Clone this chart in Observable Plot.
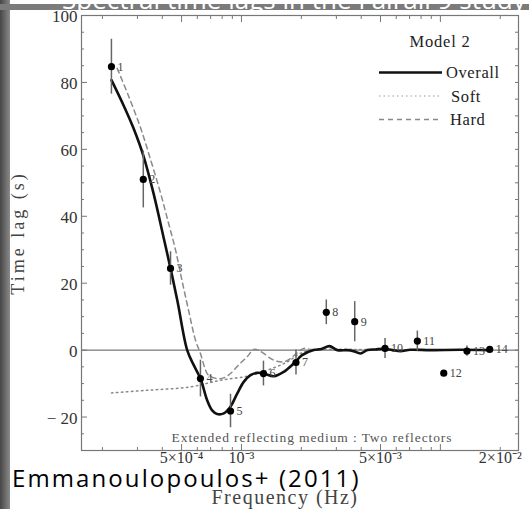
<!DOCTYPE html>
<html><head><meta charset="utf-8">
<script src="https://cdn.jsdelivr.net/npm/d3@7"></script>
<script src="https://cdn.jsdelivr.net/npm/@observablehq/plot@0.6"></script>
<style>
html,body{margin:0;padding:0;background:#fff;}
#wrap{position:relative;width:529px;height:509px;overflow:hidden;background:#fff;}
#chart{position:absolute;left:0;top:0;}
#leftbar{position:absolute;left:0;top:0;width:10px;height:509px;background:linear-gradient(to right,#464646,#8a8a8a);}
#topbar{position:absolute;left:0;top:0;width:529px;height:10px;overflow:hidden;}
#credit{position:absolute;left:12px;top:466px;font:24px/24px 'Open Sans',sans-serif;letter-spacing:2.1px;color:#000;white-space:nowrap;}
#legend{position:absolute;left:0;top:0;pointer-events:none;}
</style></head>
<body>
<div id="wrap">
  <div id="chart"></div>
  <svg id="legend" width="529" height="509"></svg>
  <div id="leftbar"></div>
  <div id="topbar"><svg width="529" height="10" viewBox="0 0 529 10">
    <defs><clipPath id="topclip"><rect x="0" y="0" width="529" height="10"></rect></clipPath></defs>
    <rect width="529" height="10" fill="#7b7b7b"></rect>
    <g clip-path="url(#topclip)"><text x="62" y="5" fill="#fff" font-family="'Open Sans',sans-serif" font-size="26">Spectral time lags in the Fairall 9 study</text></g>
  </svg></div>
  <div id="credit">Emmanoulopoulos+ (2011)</div>
</div>
<script>
// ---- data ----
const pointIds  = ["1","2","3","4","5","6","7","8","9","10","11","12","13","14"];
const pointFreq = [2.22e-4, 3.21e-4, 4.40e-4, 6.22e-4, 8.81e-4, 1.29e-3, 1.88e-3, 2.67e-3, 3.71e-3, 5.27e-3, 7.66e-3, 1.04e-2, 1.36e-2, 1.77e-2];
const pointLag  = [84.7, 51.0, 24.4, -8.5, -18.2, -7.0, -3.7, 11.3, 8.5, 0.5, 2.7, -6.9, -0.3, 0.2];
const pointErr  = [8.2, 8.5, 5.0, 5.5, 5.0, 3.7, 3.7, 3.7, 6.0, 3.0, 3.0, 0, 1.5, 0];

const overallFreq = [2.222e-4, 2.553e-4, 2.867e-4, 3.218e-4, 3.612e-4, 4.055e-4, 4.397e-4, 4.769e-4, 5.335e-4, 5.758e-4,
  6.223e-4, 6.724e-4, 7.124e-4, 7.548e-4, 8.148e-4, 8.806e-4, 9.515e-4, 1.027e-3, 1.110e-3, 1.199e-3,
  1.294e-3, 1.453e-3, 1.631e-3, 1.831e-3, 2.018e-3, 2.308e-3, 2.523e-3, 2.768e-3, 3.037e-3, 3.409e-3,
  3.655e-3, 3.963e-3, 4.298e-3, 4.714e-3, 5.171e-3, 5.739e-3, 6.295e-3, 7.067e-3, 8.906e-3, 1.260e-2, 1.763e-2];
const overallLag = [80.7, 73.2, 66.3, 58, 46.9, 33.8, 24.5, 14.6, 0, -4.5,
  -8.5, -15, -18, -19.1, -18.9, -16.9, -13, -9.5, -7.5, -6.8,
  -7, -7.8, -6.5, -4, -1.5, 0, 0.3, 1.2, 0, 0,
  -0.3, -1, 0, 0.2, 0.4, 0, -0.3, 0.1, 0, 0.1, 0];

const hardFreq = [2.373e-4, 2.705e-4, 3.108e-4, 3.489e-4, 3.917e-4, 4.297e-4, 4.659e-4, 4.995e-4, 5.416e-4, 5.872e-4,
  6.223e-4, 6.518e-4, 6.826e-4, 7.548e-4, 8.148e-4, 8.806e-4, 9.659e-4, 1.068e-3, 1.153e-3, 1.217e-3,
  1.294e-3, 1.453e-3, 1.631e-3, 1.763e-3, 1.889e-3, 2.056e-3, 2.222e-3, 2.523e-3];
const hardLag = [84.2, 76, 66.5, 57, 47, 38, 30, 21.5, 12, 3,
  -1, -5, -7.5, -8.5, -8.3, -7, -4.5, -2, 0.2, 0,
  -1, -3, -3.5, -2.5, -1, 0.5, 0.2, 0.3];

const softFreq = [2.222e-4, 3.370e-4, 5.543e-4, 7.843e-4, 1.068e-3, 1.351e-3, 1.703e-3, 1.979e-3, 2.308e-3, 6.295e-3, 1.763e-2];
const softLag  = [-12.8, -12, -11, -9, -7.8, -6, -3.5, -1, 0, 0, 0];

const yMajorTicks = [-20, 0, 20, 40, 60, 80, 100];
const yMinorTicks = [-30, -25, -15, -10, -5, 5, 10, 15, 25, 30, 35, 45, 50, 55, 65, 70, 75, 85, 90, 95];
const xMajorTicks = [5e-4, 1e-3, 5e-3, 1e-2];
const xMinorTicks = [2e-4, 3e-4, 4e-4, 6e-4, 7e-4, 8e-4, 9e-4, 2e-3, 3e-3, 4e-3, 6e-3, 7e-3, 8e-3, 9e-3, 2e-2];
const xLabelTicks = [5e-4, 1e-3, 5e-3, 2e-2];
const xLabelTexts = ["5×10⁻⁴", "10⁻³", "5×10⁻³", "2×10⁻²"];

const yLabel = "Time lag (s)";
const xLabel = "Frequency (Hz)";
const caption = "Extended reflecting medium : Two reflectors";
const legendTitle = "Model 2";
const seriesNames = ["Overall", "Soft", "Hard"];

// ---- tables ----
const points = pointIds.map((id, i) => ({id, f: pointFreq[i], lag: pointLag[i], lo: pointLag[i] - pointErr[i], hi: pointLag[i] + pointErr[i]}));
const overall = overallFreq.map((f, i) => ({f, lag: overallLag[i]}));
const hard = hardFreq.map((f, i) => ({f, lag: hardLag[i]}));
const soft = softFreq.map((f, i) => ({f, lag: softLag[i]}));
const blank = () => "";
const serif = "'Liberation Serif', 'Times New Roman', serif";
const axisStroke = "#777";

const chart = Plot.plot({
  width: 529, height: 509,
  marginLeft: 81, marginRight: 11, marginTop: 15, marginBottom: 59,
  style: {background: "transparent", fontFamily: serif, overflow: "visible"},
  x: {type: "log", domain: [1.57e-4, 2.47e-2], label: null},
  y: {domain: [-30, 100], label: null},
  marks: [
    Plot.ruleY([0], {stroke: "#555", strokeWidth: 1}),
    Plot.frame({stroke: axisStroke, strokeWidth: 1.2}),
    // ticks (inward)
    Plot.axisY({anchor: "left", ticks: yMajorTicks, tickSize: -6, tickFormat: blank, stroke: axisStroke, label: null}),
    Plot.axisY({anchor: "left", ticks: yMinorTicks, tickSize: -3, tickFormat: blank, stroke: axisStroke, label: null}),
    Plot.axisY({anchor: "right", ticks: yMajorTicks, tickSize: -4, tickFormat: blank, stroke: axisStroke, label: null}),
    Plot.axisY({anchor: "right", ticks: yMinorTicks, tickSize: -4, tickFormat: blank, stroke: axisStroke, label: null}),
    Plot.axisX({anchor: "bottom", ticks: xMajorTicks, tickSize: -6, tickFormat: blank, stroke: axisStroke, label: null}),
    Plot.axisX({anchor: "bottom", ticks: xMinorTicks, tickSize: -3, tickFormat: blank, stroke: axisStroke, label: null}),
    Plot.axisX({anchor: "top", ticks: xMajorTicks, tickSize: -6, tickFormat: blank, stroke: axisStroke, label: null}),
    Plot.axisX({anchor: "top", ticks: xMinorTicks, tickSize: -3, tickFormat: blank, stroke: axisStroke, label: null}),
    // tick labels
    Plot.axisY({anchor: "left", ticks: yMajorTicks, tickSize: 0, tickPadding: 4, fontSize: 17, fill: "#333", label: null, dy: 1.5,
      tickFormat: d => d < 0 ? "− " + Math.abs(d) : String(d)}),
    Plot.axisX({anchor: "bottom", ticks: xLabelTicks, tickSize: 0, tickPadding: 1, fontSize: 16, fill: "#333", label: null,
      tickFormat: d => xLabelTexts[xLabelTicks.indexOf(d)]}),
    // axis titles & caption
    Plot.text([yLabel], {frameAnchor: "left", textAnchor: "middle", lineAnchor: "middle", dx: -63, rotate: -90, fontSize: 18, fill: "#444", text: d => d}),
    Plot.text([xLabel], {frameAnchor: "bottom", textAnchor: "middle", lineAnchor: "middle", dx: -15, dy: 47, fontSize: 20, fill: "#444", text: d => d}),
    Plot.text([caption], {frameAnchor: "bottom", textAnchor: "middle", lineAnchor: "middle", dx: 12, dy: -13, fontSize: 13.5, fill: "#555", text: d => d}),
    // curves
    Plot.line(soft, {x: "f", y: "lag", stroke: "#888", strokeWidth: 1.5, strokeDasharray: "1.5,3.5", curve: "catmull-rom"}),
    Plot.line(hard, {x: "f", y: "lag", stroke: "#8a8a8a", strokeWidth: 1.5, strokeDasharray: "5,4", curve: "catmull-rom"}),
    Plot.line(overall, {x: "f", y: "lag", stroke: "#111", strokeWidth: 2.6, curve: "catmull-rom"}),
    // data
    Plot.ruleX(points, {x: "f", y1: "lo", y2: "hi", stroke: "#666", strokeWidth: 1.5}),
    Plot.dot(points, {x: "f", y: "lag", r: 3.6, fill: "#000", stroke: "none"}),
    Plot.text(points, {x: "f", y: "lag", text: "id", dx: 6, textAnchor: "start", fontSize: 12, fill: "#444"})
  ]
});
document.getElementById("chart").appendChild(chart);

// letter spacing for stretched-looking texts
d3.select(chart).selectAll("text").each(function() {
  const t = this.textContent;
  if (t === caption) d3.select(this).attr("letter-spacing", "0.9");
  if (t === yLabel) d3.select(this).attr("letter-spacing", "3");
  if (t === xLabel) d3.select(this).attr("letter-spacing", "1.5");
});

// ---- legend (inside the frame, top-right) ----
const lg = d3.select("#legend");
lg.append("text").attr("x", 440).attr("y", 47).attr("text-anchor", "middle")
  .attr("font-family", serif).attr("font-size", 16.5).attr("fill", "#222").attr("letter-spacing", "0.8").text(legendTitle);
const legendRows = [
  {name: seriesNames[0], y: 72.5, stroke: "#111", w: 2.6, dash: null, tx: 446},
  {name: seriesNames[1], y: 96, stroke: "#999", w: 1.2, dash: "1.5,3", tx: 451},
  {name: seriesNames[2], y: 119.5, stroke: "#888", w: 1.3, dash: "5,4", tx: 450}
];
legendRows.forEach(r => {
  lg.append("line").attr("x1", 379).attr("x2", 442).attr("y1", r.y).attr("y2", r.y)
    .attr("stroke", r.stroke).attr("stroke-width", r.w).attr("stroke-dasharray", r.dash);
  lg.append("text").attr("x", r.tx).attr("y", r.y + 5.5).attr("font-family", serif).attr("font-size", 16.5)
    .attr("fill", "#222").attr("letter-spacing", "0.6").text(r.name);
});
</script>
</body></html>
